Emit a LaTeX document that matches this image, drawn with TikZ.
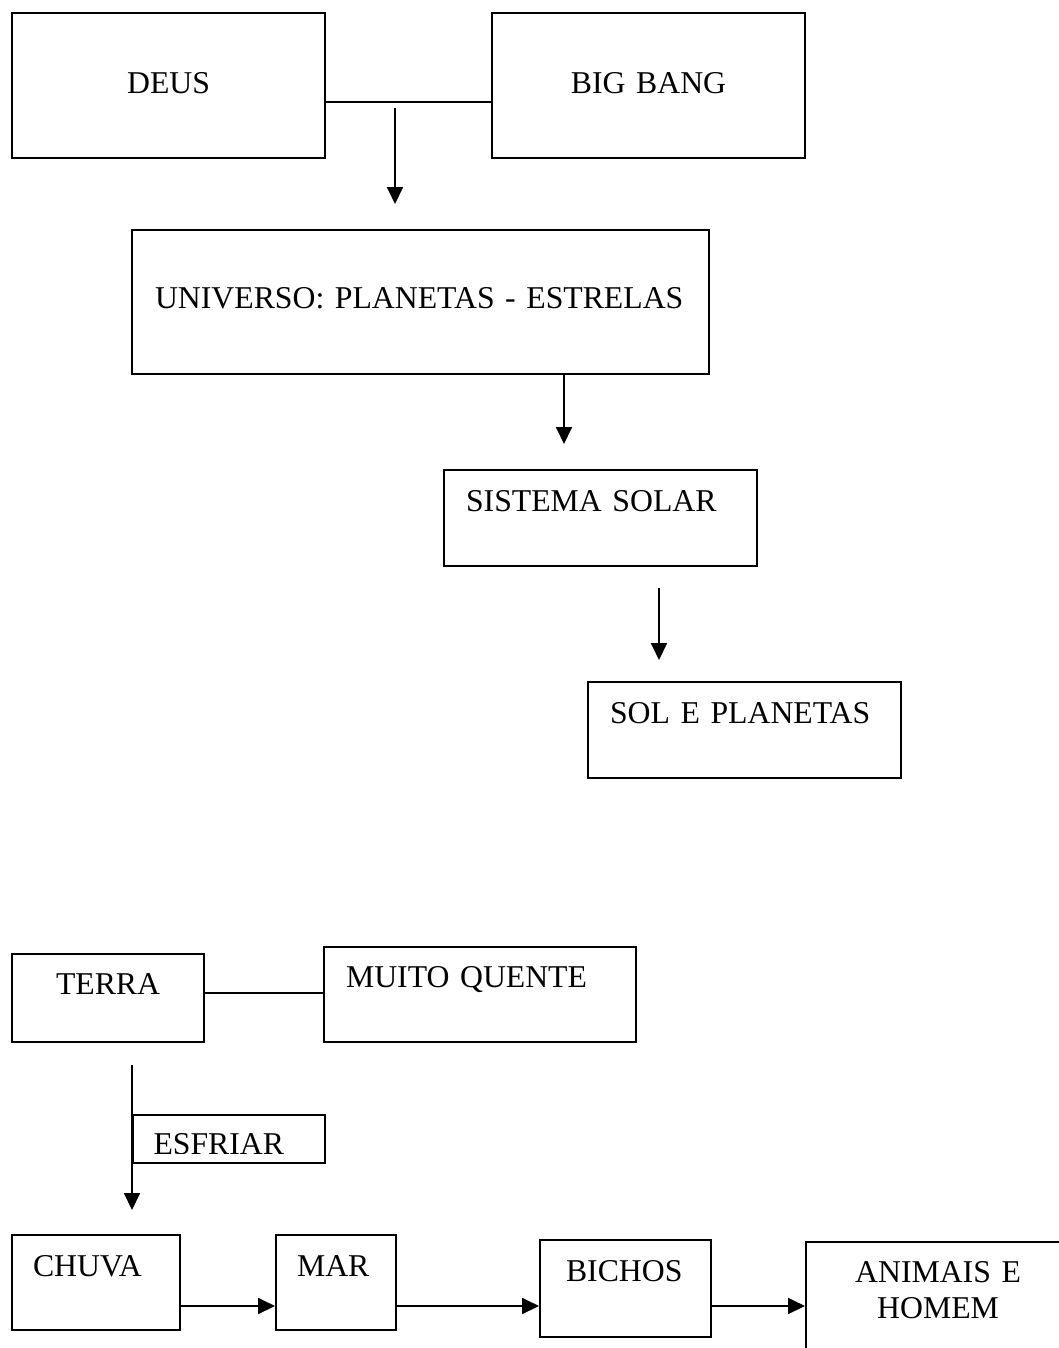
\documentclass[tikz,border=0pt]{standalone}
\usepackage{fontspec}
\setmainfont{Liberation Serif}
\usetikzlibrary{arrows.meta}
\newcommand{\pxu}{0.378pt}

\begin{document}
\begin{tikzpicture}[x=\pxu, y=-\pxu,
    caixa/.style n args={4}{draw, rectangle, line width=.8pt,
        anchor=north west, align=left, inner ysep=0pt,
        inner xsep=#3*\pxu, text width=(#1-2*#3)*\pxu,
        minimum height=#2*\pxu, text height=#4*\pxu,
        text depth=(#2-#4)*\pxu, font=\fontsize{12}{13.6}\selectfont},
    linha/.style={line width=.8pt},
    seta/.style={line width=.8pt, -{Triangle[length=6.4pt, width=6pt]}}]

    \useasboundingbox (0,0) rectangle (1058,1348);

    % origem do universo
    \node[caixa={313}{145}{0}{80}, align=center] (deus) at (11,12) {DEUS};
    \node[caixa={313}{145}{0}{80}, align=center] (bigbang) at (491,12)
    {BIG BANG};
    \node[caixa={577}{144}{23}{78}] (universo) at (131,229)
    {UNIVERSO: PLANETAS - ESTRELAS};
    \node[caixa={313}{96}{22}{41}] (sistema) at (443,469) {SISTEMA SOLAR};
    \node[caixa={313}{96}{22}{41}] (sol) at (587,681) {SOL E PLANETAS};

    \coordinate (l1) at (0,102);
    \draw[linha] (deus.east |- l1) -- (bigbang.west |- l1);

    \coordinate (s1a) at (395,108);
    \coordinate (s1b) at (395,204);
    \draw[seta] (s1a) -- (s1b);
    \coordinate (s2) at (564,444);
    \draw[seta] (universo.south -| s2) -- (s2);
    \coordinate (s3a) at (659,588);
    \coordinate (s3b) at (659,660);
    \draw[seta] (s3a) -- (s3b);

    % terra
    \node[caixa={192}{88}{0}{40}, align=center] (terra) at (11,953) {TERRA};
    \node[caixa={312}{95}{22}{40}] (quente) at (323,946) {MUITO QUENTE};
    \coordinate (l2) at (0,993);
    \draw[linha] (terra.east |- l2) -- (quente.west |- l2);

    \node[caixa={192}{48}{0}{24}] (esfriar) at (132,1114) {};
    \begin{scope}
        \clip (esfriar.north west) rectangle
        ([yshift=11*\pxu]esfriar.south east);
        \node[anchor=base west, inner sep=0pt,
        font=\fontsize{12}{13.6}\selectfont] (esfriartxt) at (153,1154)
        {ESFRIAR};
    \end{scope}

    \coordinate (s4a) at (132,1065);
    \coordinate (s4b) at (132,1210);
    \draw[seta] (s4a) -- (s4b);

    % vida
    \node[caixa={168}{95}{21}{41}] (chuva) at (11,1234) {CHUVA};
    \node[caixa={120}{95}{21}{41}] (mar) at (275,1234) {MAR};
    \node[caixa={171}{97}{26}{41}] (bichos) at (539,1239) {BICHOS};
    \node[caixa={264}{130}{0}{40}, align=center] (animais) at (805,1241)
    {ANIMAIS E\\HOMEM};

    \coordinate (l3) at (0,1306);
    \draw[seta] (chuva.east |- l3) -- (mar.west |- l3);
    \draw[seta] (mar.east |- l3) -- (bichos.west |- l3);
    \draw[seta] (bichos.east |- l3) -- (animais.west |- l3);
\end{tikzpicture}
\end{document}
